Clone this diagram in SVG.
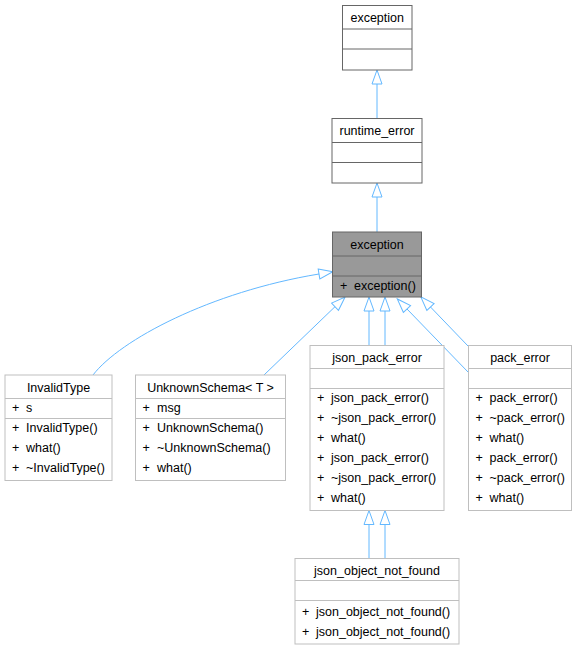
<svg xmlns="http://www.w3.org/2000/svg" width="577" height="649" viewBox="0 0 577 649">
<defs>
<style>
text{font-family:"Liberation Sans",Arial,sans-serif;font-size:12.5px;fill:#000}
.c{text-anchor:middle}
.box{fill:#fff;stroke:#666;stroke-width:1}
.lbox{fill:#fff;stroke:#bfbfbf;stroke-width:1}
.gbox{fill:#999;stroke:#666;stroke-width:1}
.dv{stroke:#666;stroke-width:1}
.ldv{stroke:#bfbfbf;stroke-width:1}
.e{fill:none;stroke:#63b8ff;stroke-width:1;marker-end:url(#ah)}
</style>
<marker id="ah" markerUnits="userSpaceOnUse" markerWidth="16" markerHeight="12" viewBox="-1 -1 16 12" refX="0" refY="5" orient="auto">
<path d="M0,0 L14,5 L0,10 Z" fill="none" stroke="#63b8ff" stroke-width="1"/>
</marker>
</defs>
<rect width="577" height="649" fill="#fff"/>
<g id="connectors">
<path class="e" d="M377,118.5 L377,84"/>
<path class="e" d="M377,232 L377,197"/>
<path class="e" d="M93,375 C120,340 210,292 319,274"/>
<path class="e" d="M264,375 L335,306.7"/>
<path class="e" d="M369,345.5 L369,311"/>
<path class="e" d="M385,345.5 L385,311"/>
<path class="e" d="M468,372 L407,309"/>
<path class="e" d="M468,346 L430.5,307"/>
<path class="e" d="M369,558.5 L369,524.5"/>
<path class="e" d="M385,558.5 L385,524.5"/>
</g>
<g id="node-exception-std">
<rect class="box" x="342.5" y="5.5" width="69.5" height="64.5"/>
<line class="dv" x1="342.5" y1="29" x2="412" y2="29"/>
<line class="dv" x1="342.5" y1="49" x2="412" y2="49"/>
<text class="c" x="377.2" y="21.5">exception</text>
</g>
<g id="node-runtime_error">
<rect class="box" x="332" y="118.5" width="90" height="64.5"/>
<line class="dv" x1="332" y1="142.5" x2="422" y2="142.5"/>
<line class="dv" x1="332" y1="162.5" x2="422" y2="162.5"/>
<text class="c" x="377" y="135">runtime_error</text>
</g>
<g id="node-exception">
<rect class="gbox" x="332.5" y="232" width="89" height="65"/>
<line class="dv" x1="332.5" y1="256" x2="421.5" y2="256"/>
<line class="dv" x1="332.5" y1="276" x2="421.5" y2="276"/>
<text class="c" x="377" y="248.5">exception</text>
<text x="340" y="290">+</text>
<text x="354" y="290">exception()</text>
</g>
<g id="node-InvalidType">
<rect class="lbox" x="5" y="375" width="107" height="105.5"/>
<line class="ldv" x1="5" y1="398.5" x2="112" y2="398.5"/>
<line class="ldv" x1="5" y1="418.5" x2="112" y2="418.5"/>
<text class="c" x="58.5" y="392">InvalidType</text>
<text x="12" y="412">+</text><text x="26" y="412">s</text>
<text x="12" y="432">+</text><text x="26" y="432">InvalidType()</text>
<text x="12" y="452">+</text><text x="26" y="452">what()</text>
<text x="12" y="472">+</text><text x="26" y="472">~InvalidType()</text>
</g>
<g id="node-UnknownSchema">
<rect class="lbox" x="135.5" y="375" width="150" height="105.5"/>
<line class="ldv" x1="135.5" y1="398.5" x2="285.5" y2="398.5"/>
<line class="ldv" x1="135.5" y1="418.5" x2="285.5" y2="418.5"/>
<text class="c" x="210.5" y="392">UnknownSchema&lt; T &gt;</text>
<text x="142.5" y="412">+</text><text x="157" y="412">msg</text>
<text x="142.5" y="432">+</text><text x="157" y="432">UnknownSchema()</text>
<text x="142.5" y="452">+</text><text x="157" y="452">~UnknownSchema()</text>
<text x="142.5" y="472">+</text><text x="157" y="472">what()</text>
</g>
<g id="node-json_pack_error">
<rect class="lbox" x="310" y="345.5" width="134" height="165"/>
<line class="ldv" x1="310" y1="368.5" x2="444" y2="368.5"/>
<line class="ldv" x1="310" y1="388.5" x2="444" y2="388.5"/>
<text class="c" x="377" y="361.5">json_pack_error</text>
<text x="317" y="401.5">+</text><text x="331" y="401.5">json_pack_error()</text>
<text x="317" y="421.5">+</text><text x="331" y="421.5">~json_pack_error()</text>
<text x="317" y="441.5">+</text><text x="331" y="441.5">what()</text>
<text x="317" y="461.5">+</text><text x="331" y="461.5">json_pack_error()</text>
<text x="317" y="481.5">+</text><text x="331" y="481.5">~json_pack_error()</text>
<text x="317" y="501.5">+</text><text x="331" y="501.5">what()</text>
</g>
<g id="node-pack_error">
<rect class="lbox" x="468.5" y="345.5" width="103" height="165"/>
<line class="ldv" x1="468.5" y1="368.5" x2="571.5" y2="368.5"/>
<line class="ldv" x1="468.5" y1="388.5" x2="571.5" y2="388.5"/>
<text class="c" x="520" y="361.5">pack_error</text>
<text x="475.5" y="401.5">+</text><text x="489.5" y="401.5">pack_error()</text>
<text x="475.5" y="421.5">+</text><text x="489.5" y="421.5">~pack_error()</text>
<text x="475.5" y="441.5">+</text><text x="489.5" y="441.5">what()</text>
<text x="475.5" y="461.5">+</text><text x="489.5" y="461.5">pack_error()</text>
<text x="475.5" y="481.5">+</text><text x="489.5" y="481.5">~pack_error()</text>
<text x="475.5" y="501.5">+</text><text x="489.5" y="501.5">what()</text>
</g>
<g id="node-json_object_not_found">
<rect class="lbox" x="295" y="558.5" width="164" height="85.5"/>
<line class="ldv" x1="295" y1="580.5" x2="459" y2="580.5"/>
<line class="ldv" x1="295" y1="600.5" x2="459" y2="600.5"/>
<text class="c" x="377" y="575">json_object_not_found</text>
<text x="302" y="615.5">+</text><text x="316" y="615.5">json_object_not_found()</text>
<text x="302" y="635.5">+</text><text x="316" y="635.5">json_object_not_found()</text>
</g>
</svg>
